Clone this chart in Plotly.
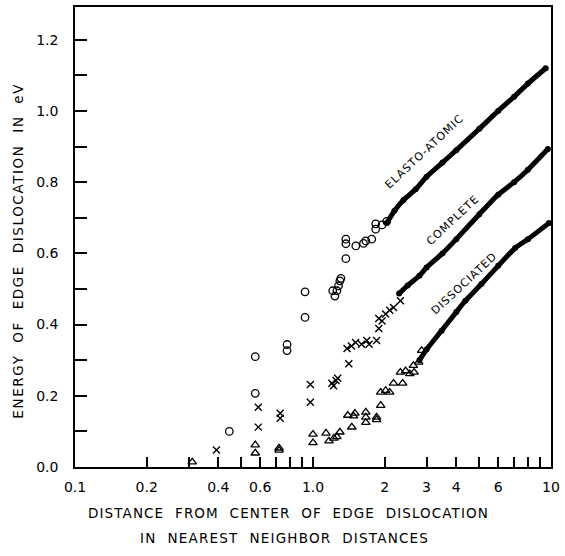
import plotly.graph_objects as go

# ---- scattered points ----
elasto_x = [0.445, 0.572, 0.572, 0.778, 0.778, 0.926, 0.926, 1.21, 1.236, 1.26, 1.28, 1.297, 1.31,
            1.374, 1.374, 1.374, 1.513, 1.63, 1.667, 1.765, 1.834, 1.834, 1.95, 2.04]
elasto_y = [0.10, 0.31, 0.207, 0.344, 0.327, 0.492, 0.42, 0.495, 0.48, 0.495, 0.509, 0.523, 0.53,
            0.64, 0.627, 0.585, 0.621, 0.628, 0.635, 0.64, 0.668, 0.683, 0.68, 0.69]

complete_x = [0.393, 0.467, 0.589, 0.589, 0.728, 0.728, 0.975, 0.975, 1.2, 1.22, 1.25, 1.27,
              1.39, 1.414, 1.45, 1.51, 1.6, 1.683, 1.72, 1.85, 1.89, 1.89, 1.95, 2.02, 2.1, 2.18, 2.33]
complete_y = [0.048, -0.02, 0.168, 0.112, 0.151, 0.137, 0.232, 0.182, 0.235, 0.228, 0.243, 0.249,
              0.333, 0.29, 0.34, 0.35, 0.345, 0.355, 0.345, 0.355, 0.389, 0.417, 0.41, 0.43, 0.44, 0.448, 0.467]

dissoc_x = [0.311, 0.50, 0.572, 0.572, 0.72, 0.72, 1.0, 1.0, 1.134, 1.167, 1.224, 1.26, 1.297,
            1.4, 1.456, 1.5, 1.48, 1.667, 1.667, 1.667, 1.85, 1.85, 1.925, 1.925, 2.02, 2.1,
            2.18, 2.33, 2.38, 2.45, 2.55, 2.64, 2.66, 2.78, 2.86]
dissoc_y = [0.014, -0.005, 0.062, 0.039, 0.053, 0.047, 0.092, 0.068, 0.095, 0.073, 0.081, 0.085, 0.098,
            0.145, 0.112, 0.151, 0.143, 0.154, 0.14, 0.125, 0.14, 0.133, 0.173, 0.21, 0.215, 0.21,
            0.235, 0.266, 0.235, 0.27, 0.262, 0.285, 0.266, 0.294, 0.327]

# ---- dense parts of the curves ----
elasto_curve_x = [2.04, 2.2, 2.4, 2.7, 3.0, 3.5, 4.0, 5.0, 6.0, 7.0, 8.0, 9.5]
elasto_curve_y = [0.685, 0.72, 0.75, 0.78, 0.815, 0.855, 0.89, 0.95, 1.0, 1.04, 1.077, 1.12]

complete_curve_x = [2.3, 2.5, 2.8, 3.0, 3.5, 4.0, 5.0, 6.0, 7.0, 8.0, 9.7]
complete_curve_y = [0.487, 0.51, 0.537, 0.56, 0.6, 0.64, 0.71, 0.765, 0.80, 0.835, 0.893]

dissoc_curve_x = [2.8, 3.0, 3.47, 4.0, 4.37, 5.1, 6.0, 7.07, 8.0, 9.8]
dissoc_curve_y = [0.30, 0.33, 0.383, 0.435, 0.467, 0.514, 0.565, 0.615, 0.64, 0.685]

# ---- axis ticks ----
x_tick_vals = [0.1, 0.2, 0.3, 0.4, 0.5, 0.6, 0.7, 0.8, 0.9, 1, 2, 3, 4, 5, 6, 7, 8, 9, 10]
x_tick_text = ["0.1", "0.2", "", "0.4", "", "0.6", "", "", "", "1.0", "2", "3", "4", "", "6", "", "", "", "10"]
y_tick_vals = [0.0, 0.1, 0.2, 0.3, 0.4, 0.5, 0.6, 0.7, 0.8, 0.9, 1.0, 1.1, 1.2]
y_tick_text = ["0.0", "", "0.2", "", "0.4", "", "0.6", "", "0.8", "", "1.0", "", "1.2"]

FONT = "DejaVu Sans"
fig = go.Figure()

for cx, cy in [(elasto_curve_x, elasto_curve_y), (complete_curve_x, complete_curve_y),
               (dissoc_curve_x, dissoc_curve_y)]:
    fig.add_trace(go.Scatter(x=cx, y=cy, mode="lines+markers",
                             line=dict(color="black", width=5, shape="spline", smoothing=0.6),
                             marker=dict(symbol="circle", size=6, color="black"),
                             showlegend=False))

fig.add_trace(go.Scatter(x=elasto_x, y=elasto_y, mode="markers", cliponaxis=False,
                         marker=dict(symbol="circle-open", size=7.5, color="black",
                                     line=dict(width=1.3, color="black")), showlegend=False))
fig.add_trace(go.Scatter(x=complete_x, y=complete_y, mode="markers", cliponaxis=False,
                         marker=dict(symbol="x-thin-open", size=7, color="black",
                                     line=dict(width=1.4, color="black")), showlegend=False))
fig.add_trace(go.Scatter(x=dissoc_x, y=dissoc_y, mode="markers", cliponaxis=False,
                         marker=dict(symbol="triangle-up-open", size=7.5, color="black",
                                     line=dict(width=1.3, color="black")), showlegend=False))

def spaced(t, ls):
    return f'<span style="letter-spacing:{ls}px">{t}</span>'

fig.update_layout(
    width=565, height=556,
    margin=dict(l=75, r=12, t=5, b=89),
    paper_bgcolor="white", plot_bgcolor="white",
    font=dict(family=FONT, color="black", size=14),
    xaxis=dict(type="log", range=[-1, 1], tickvals=x_tick_vals, ticktext=x_tick_text,
               ticks="inside", ticklen=10, tickwidth=2, tickcolor="black",
               showline=True, linecolor="black", linewidth=1.5, mirror=True,
               showgrid=False, zeroline=False, tickfont=dict(size=14), ticklabelstandoff=6),
    yaxis=dict(range=[0, 1.292], tickvals=y_tick_vals, ticktext=y_tick_text,
               ticks="inside", ticklen=12, tickwidth=2, tickcolor="black",
               showline=True, linecolor="black", linewidth=1.5, mirror=True,
               showgrid=False, zeroline=False, tickfont=dict(size=14), ticklabelstandoff=12),
)

annos = [
    dict(text=spaced("DISTANCE  FROM  CENTER  OF  EDGE  DISLOCATION", 1.1), x=0.449, y=-0.1, size=13.5),
    dict(text=spaced("IN  NEAREST  NEIGHBOR  DISTANCES", 1.2), x=0.44, y=-0.155, size=13.5),
]
for a in annos:
    fig.add_annotation(text=a["text"], xref="paper", yref="paper", x=a["x"], y=a["y"],
                       showarrow=False, font=dict(size=a["size"], family=FONT),
                       xanchor="center", yanchor="middle")

fig.add_annotation(text=spaced("ENERGY  OF  EDGE  DISLOCATION  IN  eV", 1.6), xref="paper", yref="paper",
                   x=-0.12, y=0.47, textangle=-90, showarrow=False,
                   font=dict(size=13.5, family=FONT), xanchor="center", yanchor="middle")

for txt, px, py in [("ELASTO-ATOMIC", 426, 150), ("COMPLETE", 454, 219), ("DISSOCIATED", 466, 283)]:
    fig.add_annotation(text=spaced(txt, 1.0), xref="paper", yref="paper",
                       x=(px - 75) / 478, y=(467 - py) / 462, textangle=-43, showarrow=False,
                       font=dict(size=11, family=FONT), xanchor="center", yanchor="middle")

fig.write_html("out.html")
